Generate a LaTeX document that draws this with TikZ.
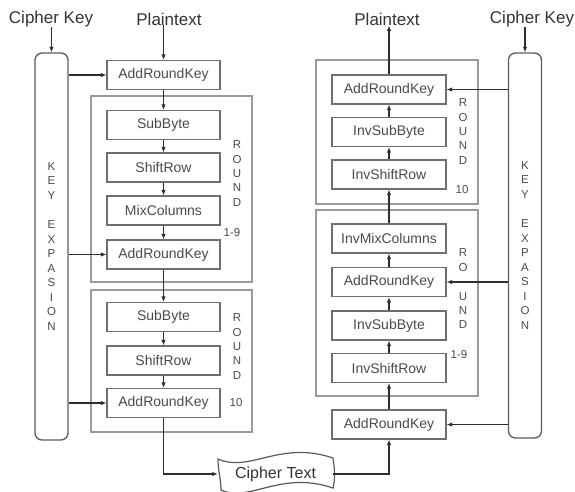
\documentclass[tikz,border=0pt]{standalone}
\usepackage{fontspec}
\setmainfont{Liberation Sans}
\usetikzlibrary{arrows.meta}
\definecolor{boxgray}{HTML}{6E6E6E}
\definecolor{roundgray}{HTML}{9A9A9A}
\definecolor{keygray}{HTML}{5A5A5A}
\definecolor{arrgray}{HTML}{2E2E2E}
\definecolor{txtgray}{HTML}{4A4A4A}
\definecolor{titlegray}{HTML}{333333}
\begin{document}
\begin{tikzpicture}[x=1pt,y=-1pt,
 stepbox/.style={draw=boxgray, line width=1.1pt, minimum width=113pt, minimum height=29pt, inner sep=0pt, font=\fontsize{14}{16}\selectfont, text=txtgray},
 roundbox/.style={draw=roundgray, line width=1.1pt, inner sep=0pt},
 keybox/.style={draw=keygray, line width=1.3pt, rounded corners=7pt, minimum width=33pt, inner sep=0pt, align=center, font=\fontsize{11.5}{14.55}\selectfont, text=txtgray},
 arr/.style={draw=arrgray, line width=1.1pt, -{Latex[length=5.5pt,width=4.5pt]}},
 title/.style={font=\fontsize{17}{19}\selectfont, text=titlegray, inner sep=0pt},
 vlab/.style={font=\fontsize{11.5}{14.4}\selectfont, align=center, text=txtgray, inner sep=0pt},
 num/.style={font=\fontsize{11.5}{13}\selectfont, text=txtgray, inner sep=0pt},
]
\useasboundingbox (0,0) rectangle (575,491);
\clip (0,0) rectangle (575,491);

% ---------- Left: encryption ----------
\node[title] (ckL) at (51,19) {Cipher Key};
\node[title] (ptL) at (169,19) {Plaintext};
\node[keybox, minimum height=387pt] (keyL) at (51.5,246.5) {K\\E\\Y\\~\\E\\X\\P\\A\\S\\I\\O\\N};

\node[roundbox, minimum width=161pt, minimum height=186pt] (r19L) at (171.5,189) {};
\node[roundbox, minimum width=161pt, minimum height=142pt] (r10L) at (171.5,361) {};

\node[stepbox] (ark1) at (163.5,75) {AddRoundKey};
\node[stepbox] (sb1) at (163.5,125) {SubByte};
\node[stepbox] (sr1) at (163.5,167.5) {ShiftRow};
\node[stepbox] (mc1) at (163.5,210.5) {MixColumns};
\node[stepbox] (ark2) at (163.5,254.5) {AddRoundKey};
\node[stepbox] (sb2) at (163.5,317) {SubByte};
\node[stepbox] (sr2) at (163.5,360.5) {ShiftRow};
\node[stepbox] (ark3) at (163.5,403) {AddRoundKey};

\node[vlab] (rl1) at (237,173.5) {R\\O\\U\\N\\D};
\node[num] (nl1) at (232,233) {1-9};
\node[vlab] (rl2) at (237,346.5) {R\\O\\U\\N\\D};
\node[num] (nl2) at (236,403) {10};

\draw[arr] (ckL.south -| keyL.north) -- (keyL.north);
\draw[arr] (ptL.south -| ark1.north) -- (ark1.north);
\draw[arr] (ark1) -- (sb1);
\draw[arr] (sb1) -- (sr1);
\draw[arr] (sr1) -- (mc1);
\draw[arr] (mc1) -- (ark2);
\draw[arr] (ark2) -- (sb2);
\draw[arr] (sb2) -- (sr2);
\draw[arr] (sr2) -- (ark3);
\draw[arr] (keyL.east |- ark1.west) -- (ark1.west);
\draw[arr] (keyL.east |- ark2.west) -- (ark2.west);
\draw[arr] (keyL.east |- ark3.west) -- (ark3.west);

% ---------- Cipher text ----------
\node[minimum width=115pt, minimum height=30pt, inner sep=0pt, font=\fontsize{16}{18}\selectfont, text=titlegray] (ct) at (275.5,474) {Cipher Text};
\draw[draw=keygray, line width=1.2pt]
  (218,459) .. controls (250,473) and (280,440) .. (333,458)
  .. controls (335,470) and (335,480) .. (333,488)
  .. controls (280,470) and (250,503) .. (221,490)
  .. controls (221,480) and (218,470) .. cycle;
\draw[arr] (ark3.south) |- (ct.west);
\draw[arr] (ct.east) -| (389,439.5);

% ---------- Right: decryption ----------
\node[title] (ptR) at (387,19) {Plaintext};
\node[title] (ckR) at (532,19) {Cipher Key};
\node[keybox, minimum height=385pt] (keyR) at (525,245.5) {K\\E\\Y\\~\\E\\X\\P\\A\\S\\I\\O\\N};

\node[roundbox, minimum width=162pt, minimum height=144pt] (r10R) at (397,132) {};
\node[roundbox, minimum width=162pt, minimum height=186pt] (r19R) at (397,303) {};

\node[stepbox, minimum width=114pt] (rark1) at (389,89.5) {AddRoundKey};
\node[stepbox, minimum width=114pt] (isb1) at (389,132) {InvSubByte};
\node[stepbox, minimum width=114pt] (isr1) at (389,174.5) {InvShiftRow};
\node[stepbox, minimum width=114pt] (imc) at (389,238.5) {InvMixColumns};
\node[stepbox, minimum width=114pt] (rark2) at (389,282) {AddRoundKey};
\node[stepbox, minimum width=114pt] (isb2) at (389,325.5) {InvSubByte};
\node[stepbox, minimum width=114pt] (isr2) at (389,368) {InvShiftRow};
\node[stepbox, minimum width=114pt] (rark0) at (389,424.5) {AddRoundKey};

\node[vlab] (rr1) at (463,131.5) {R\\O\\U\\N\\D};
\node[num] (nr1) at (462,190) {10};
\node[vlab] (rr2) at (463,289) {R\\O\\~\\U\\N\\D};
\node[num] (nr2) at (459,355) {1-9};

\draw[arr] (ckR.south -| keyR.north) -- (keyR.north);
\draw[arr] (rark1.north) -- (rark1.north |- ptR.south);
\draw[arr] (rark0) -- (isr2);
\draw[arr] (isr2) -- (isb2);
\draw[arr] (isb2) -- (rark2);
\draw[arr] (rark2) -- (imc);
\draw[arr] (imc) -- (isr1);
\draw[arr] (isr1) -- (isb1);
\draw[arr] (isb1) -- (rark1);
\draw[arr] (keyR.west |- rark1.east) -- (rark1.east);
\draw[arr] (keyR.west |- rark2.east) -- (rark2.east);
\draw[arr] (keyR.west |- rark0.east) -- (rark0.east);
\end{tikzpicture}
\end{document}
